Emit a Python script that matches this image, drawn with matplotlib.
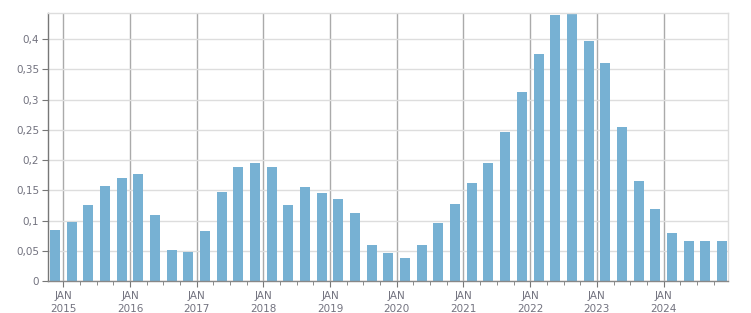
import matplotlib
matplotlib.use('Agg')
from matplotlib import pyplot as plt
from matplotlib.ticker import FixedLocator, FuncFormatter

# quarterly values, Q4 2014 .. Q4 2024
start_year = 2014
start_quarter = 4
values = [0.084, 0.097, 0.125, 0.157, 0.170, 0.177, 0.110, 0.051, 0.048, 0.082,
          0.147, 0.188, 0.195, 0.188, 0.125, 0.155, 0.145, 0.135, 0.112, 0.059,
          0.046, 0.038, 0.059, 0.096, 0.127, 0.162, 0.195, 0.246, 0.313, 0.376,
          0.440, 0.442, 0.397, 0.361, 0.255, 0.165, 0.119, 0.079, 0.066, 0.066,
          0.067]
years = list(range(2015, 2025))
yticks = [0, 0.05, 0.1, 0.15, 0.2, 0.25, 0.3, 0.35, 0.4]

bar_color = '#77b1d3'
text_color = '#72727f'

# bar centres at the middle of each quarter, in decimal years
xs = []
for i in range(len(values)):
    q = start_quarter - 1 + i
    xs.append(start_year + q // 4 + (q % 4) * 0.25 + 0.125)

fig = plt.figure(figsize=(7.51, 3.13), dpi=100)
ax = fig.add_axes([47.5 / 751, 1 - 281 / 313, (728 - 47.5) / 751, (281 - 13.3) / 313])

ax.bar(xs, values, width=0.15, color=bar_color, zorder=3)

ax.set_xlim(2014.763, 2024.966)
ax.set_ylim(0, 0.443)

ax.set_yticks(yticks)
ax.yaxis.set_major_formatter(FuncFormatter(lambda v, p: ('%g' % v).replace('.', ',')))
ax.grid(axis='y', color='#dddddd', linewidth=1, zorder=0)

ax.xaxis.set_major_locator(FixedLocator(years))
ax.set_xticklabels(['JAN\n%d' % y for y in years], linespacing=1.35)
ax.xaxis.set_minor_locator(FixedLocator([y + q * 0.25 for y in range(2014, 2025) for q in (1, 2, 3)]))
for y in years:
    ax.axvline(y, color='#aaaaaa', linewidth=1, zorder=1)

ax.tick_params(axis='both', labelsize=7.5, labelcolor=text_color, color='#777777')
ax.tick_params(axis='x', which='major', length=4, pad=3)
ax.tick_params(axis='x', which='minor', length=3, color='#777777')
ax.tick_params(axis='y', length=4, pad=2)

ax.spines['left'].set_color('#777777')
ax.spines['bottom'].set_color('#888888')
ax.spines['top'].set_color('#dddddd')
ax.spines['right'].set_color('#dddddd')
for s in ax.spines.values():
    s.set_linewidth(1)
    s.set_zorder(4)

fig.savefig('out.png', dpi=100)
